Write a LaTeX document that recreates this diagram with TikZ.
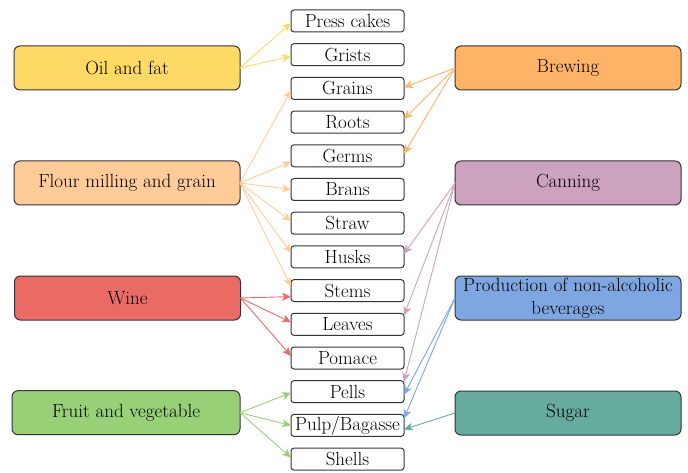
\documentclass[tikz,border=0pt]{standalone}
\usetikzlibrary{arrows.meta}
\definecolor{cOil}{HTML}{FFD966}
\definecolor{cFlour}{HTML}{FFCC99}
\definecolor{cWine}{HTML}{EA6B66}
\definecolor{cFruit}{HTML}{97D077}
\definecolor{cBrew}{HTML}{FFB366}
\definecolor{cCan}{HTML}{CDA2BE}
\definecolor{cProd}{HTML}{7EA6E0}
\definecolor{cSugar}{HTML}{67AB9F}
\definecolor{cEdge}{HTML}{333333}
\begin{document}
\begin{tikzpicture}[x=1pt,y=-1pt,
  every node/.style={font=\fontsize{19}{22.7}\selectfont},
  bigbox/.style={draw=cEdge, line width=1pt, rounded corners=6pt, minimum width=226pt, minimum height=44pt, inner sep=0pt, outer sep=0pt, align=center},
  smallbox/.style={draw=cEdge, line width=1pt, rounded corners=3pt, fill=white, minimum width=113pt, minimum height=22pt, inner sep=0pt, outer sep=0pt},
  arr/.style={line width=0.9pt, -{Stealth[length=9pt, width=8pt, inset=2.5pt]}},
]
\useasboundingbox (0,0) rectangle (688,473);

% left category boxes
\node[bigbox, fill=cOil] (oil) at (127,68) {Oil and fat};
\node[bigbox, fill=cFlour] (flour) at (127,183) {Flour milling and grain};
\node[bigbox, fill=cWine] (wine) at (127.5,298) {Wine};
\node[bigbox, fill=cFruit, minimum width=228pt] (fruit) at (126,412.7) {Fruit and vegetable};

% right category boxes
\node[bigbox, fill=cBrew] (brew) at (568,68) {Brewing};
\node[bigbox, fill=cCan] (can) at (568,183) {Canning};
\node[bigbox, fill=cProd] (prod) at (568,298) {Production of non-alcoholic\\beverages};
\node[bigbox, fill=cSugar] (sugar) at (568,413) {Sugar};

% middle items
\node[smallbox] (press) at (347.5,21) {Press cakes};
\node[smallbox] (grists) at (347.5,54.7) {Grists};
\node[smallbox] (grains) at (347.5,88.4) {Grains};
\node[smallbox] (roots) at (347.5,122.1) {Roots};
\node[smallbox] (germs) at (347.5,155.8) {Germs};
\node[smallbox] (brans) at (347.5,189.5) {Brans};
\node[smallbox] (straw) at (347.5,223.2) {Straw};
\node[smallbox] (husks) at (347.5,256.9) {Husks};
\node[smallbox] (stems) at (347.5,290.6) {Stems};
\node[smallbox] (leaves) at (347.5,324.3) {Leaves};
\node[smallbox] (pomace) at (347.5,358) {Pomace};
\node[smallbox] (pells) at (347.5,391.7) {Pells};
\node[smallbox] (pulp) at (347.5,425.4) {Pulp/Bagasse};
\node[smallbox] (shells) at (347.5,459.1) {Shells};

% Oil and fat
\draw[arr, draw=cOil] (oil.east) -- ([yshift=-2pt]press.west);
\draw[arr, draw=cOil] (oil.east) -- ([yshift=-1.5pt]grists.west);
% Flour milling
\draw[arr, draw=cFlour] (flour.east) -- ([yshift=-2pt]grains.west);
\draw[arr, draw=cFlour] (flour.east) -- ([yshift=-6pt]germs.west);
\draw[arr, draw=cFlour] (flour.east) -- (brans.west);
\draw[arr, draw=cFlour] (flour.east) -- ([yshift=2pt]straw.west);
\draw[arr, draw=cFlour] (flour.east) -- ([yshift=4pt]husks.west);
\draw[arr, draw=cFlour] (flour.east) -- ([yshift=4pt]stems.west);
% Wine
\draw[arr, draw=cWine] (wine.east) -- ([yshift=-6pt]stems.west);
\draw[arr, draw=cWine] (wine.east) -- ([yshift=2pt]leaves.west);
\draw[arr, draw=cWine] (wine.east) -- ([yshift=2pt]pomace.west);
% Fruit
\draw[arr, draw=cFruit] (fruit.east) -- ([yshift=-1pt]pells.west);
\draw[arr, draw=cFruit] (fruit.east) -- (pulp.west);
\draw[arr, draw=cFruit] (fruit.east) -- ([yshift=1.5pt]shells.west);
% Brewing
\draw[arr, draw=cBrew] (brew.west) -- ([yshift=1pt]grains.east);
\draw[arr, draw=cBrew] (brew.west) -- ([yshift=3pt]roots.east);
\draw[arr, draw=cBrew] (brew.west) -- ([yshift=2pt]germs.east);
% Canning
\draw[arr, draw=cCan] (can.west) -- ([yshift=3pt]husks.east);
\draw[arr, draw=cCan] (can.west) -- ([yshift=9pt]leaves.east);
\draw[arr, draw=cCan] (can.west) -- ([yshift=10pt]pells.east);
% Production of non-alcoholic beverages
\draw[arr, draw=cProd] (prod.west) -- ([yshift=-3pt]pells.east);
\draw[arr, draw=cProd] (prod.west) -- ([yshift=7pt]pulp.east);
% Sugar
\draw[arr, draw=cSugar] (sugar.west) -- ([yshift=-4pt]pulp.east);
\end{tikzpicture}
\end{document}
